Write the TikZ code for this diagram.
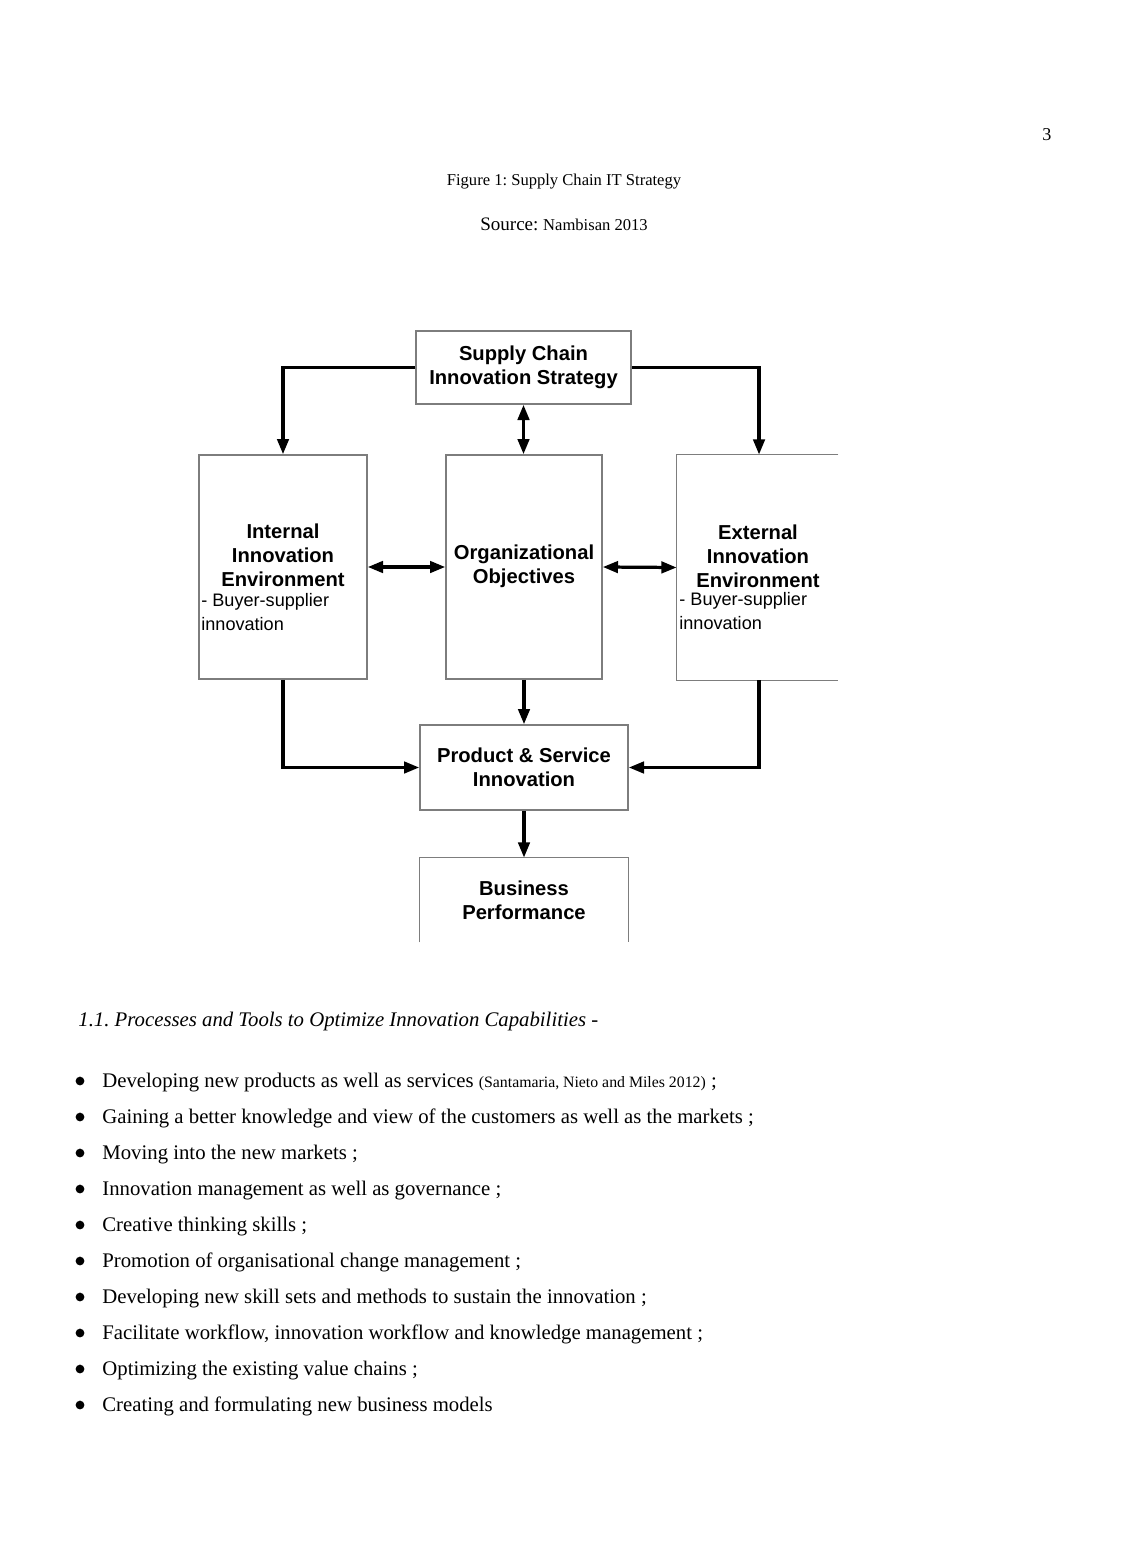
\documentclass[tikz,border=0pt]{standalone}
\usepackage{fontspec}
\setmainfont{Liberation Serif}
\newfontfamily\diagfont{Liberation Sans}
\usetikzlibrary{arrows.meta}
\definecolor{boxgray}{RGB}{125,125,125}
\newcommand{\pxu}{0.525pt}

\begin{document}
\frenchspacing
\begin{tikzpicture}[x=0.525pt,y=-0.525pt,
  box/.style={draw=boxgray,line width=0.8pt,inner sep=0pt},
  ghost/.style={inner sep=0pt},
  title/.style={font=\diagfont\bfseries\fontsize{10.6}{12.6}\selectfont,align=center,inner sep=0pt},
  note/.style={font=\diagfont\fontsize{9.5}{12.4}\selectfont,align=left,inner sep=0pt},
  arr/.style={line width=1.7pt,-{Triangle[length=8pt,width=6pt]}},
  dblarr/.style={line width=1.7pt,{Triangle[length=8pt,width=6pt]}-{Triangle[length=8pt,width=6pt]}},
  body/.style={font=\fontsize{10.9}{13}\selectfont,anchor=base west,inner sep=0pt}]

  % Page frame
  \useasboundingbox[fill=white] (0,0) rectangle (1134,1548);

  % Page header
  \node[anchor=base,inner sep=0pt,font=\fontsize{9.5}{11}\selectfont] (pagenum) at (1047,141) {3};
  \node[anchor=base,inner sep=0pt,font=\fontsize{8.7}{10}\selectfont] (caption) at (564,186) {Figure 1: Supply Chain IT Strategy};
  \node[anchor=base,inner sep=0pt] (source) at (564,231)
    {{\fontsize{10}{12}\selectfont Source:} {\fontsize{8.7}{10}\selectfont Nambisan 2013}};

  % Boxes
  \node[box,minimum width=215*\pxu,minimum height=73*\pxu] (strategy) at (523.5,367.5) {};
  \node[box,minimum width=168*\pxu,minimum height=224*\pxu] (internal) at (283,567) {};
  \node[box,minimum width=156*\pxu,minimum height=224*\pxu] (objectives) at (524,567) {};
  \node[ghost,minimum width=161*\pxu,minimum height=225*\pxu] (external) at (757.5,567.5) {};
  \node[box,minimum width=208*\pxu,minimum height=85*\pxu] (product) at (524,767.5) {};
  \node[ghost,minimum width=208*\pxu,minimum height=84*\pxu] (business) at (524,900) {};

  % Cropped box sides
  \draw[boxgray,line width=0.8pt] (external.north east) -- (external.north west)
    -- (external.south west) -- (external.south east);
  \draw[boxgray,line width=0.8pt] (business.south west) -- (business.north west)
    -- (business.north east) -- (business.south east);

  % Box texts
  \node[title] (strategytxt) at (523.5,367) {Supply Chain\\Innovation Strategy};
  \node[title] (internaltxt) at (283,555) {Internal\\Innovation\\Environment};
  \node[note,anchor=north west] (internalnote) at (201,593) {- Buyer-supplier\\innovation};
  \node[title] (objectivestxt) at (524,566) {Organizational\\Objectives};
  \node[title] (externaltxt) at (758,556) {External\\Innovation\\Environment};
  \node[note,anchor=north west] (externalnote) at (679,592) {- Buyer-supplier\\innovation};
  \node[title] (producttxt) at (524,767) {Product \& Service\\Innovation};
  \node[title] (businesstxt) at (524,900) {Business\\Performance};

  % Connectors
  \draw[arr] (strategy.west) -| (internal.north);
  \draw[arr] (strategy.east) -| ([xshift=0.8pt]external.north);
  \draw[dblarr] (strategy.south) -- (strategy.south |- objectives.north);
  \draw[dblarr] (internal.east) -- (objectives.west);
  \draw[dblarr] (objectives.east) -- (external.west);
  \draw[arr] (objectives.south) -- (product.north);
  \draw[arr] (internal.south) |- (product.west);
  \draw[arr] ([xshift=0.8pt]external.south) |- (product.east);
  \draw[arr] (product.south) -- (business.north);

  % Section heading
  \node[body,font=\fontsize{10.9}{13}\selectfont\itshape] (heading) at (78,1026)
    {1.1. Processes and Tools to Optimize Innovation Capabilities -};

  % Bullet list
  \foreach \txt [count=\i] in {
    {Developing new products as well as services {\fontsize{8.3}{10}\selectfont(Santamaria, Nieto and Miles 2012)} ;},
    {Gaining a better knowledge and view of the customers as well as the markets ;},
    {Moving into the new markets ;},
    {Innovation management as well as governance ;},
    {Creative thinking skills ;},
    {Promotion of organisational change management ;},
    {Developing new skill sets and methods to sustain the innovation ;},
    {Facilitate workflow, innovation workflow and knowledge management ;},
    {Optimizing the existing value chains ;},
    {Creating and formulating new business models}} {
    \fill (80,{1045+36*\i}) circle (2.3pt);
    \node[body] (item\i) at (102,{1051+36*\i}) {\txt};
  }
\end{tikzpicture}
\end{document}
